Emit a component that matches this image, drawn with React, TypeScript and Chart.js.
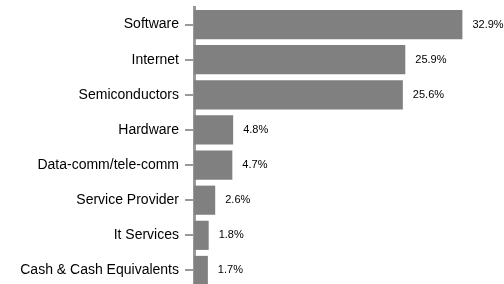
import React, { useEffect, useRef } from "react";
import { Chart, registerables } from "chart.js";

Chart.register(...registerables);

const categories = [
  "Software",
  "Internet",
  "Semiconductors",
  "Hardware",
  "Data-comm/tele-comm",
  "Service Provider",
  "It Services",
  "Cash & Cash Equivalents",
];
const weights = [32.9, 25.9, 25.6, 4.8, 4.7, 2.6, 1.8, 1.7];

const valueLabels = {
  id: "valueLabels",
  afterDatasetsDraw(chart: any) {
    const ctx = chart.ctx;
    const meta = chart.getDatasetMeta(0);
    ctx.save();
    ctx.font = "11px Arial, 'Liberation Sans', sans-serif";
    ctx.fillStyle = "#000";
    ctx.textAlign = "left";
    ctx.textBaseline = "middle";
    meta.data.forEach((bar: any, i: number) => {
      ctx.fillText(weights[i].toFixed(1) + "%", bar.x + 10, bar.y);
    });
    ctx.restore();
  },
};

export default function App() {
  const ref = useRef<HTMLCanvasElement>(null);
  useEffect(() => {
    if (!ref.current) return;
    const chart = new Chart(ref.current, {
      type: "bar",
      data: {
        labels: categories,
        datasets: [
          {
            data: weights,
            backgroundColor: "#808080",
            borderWidth: 0,
            barPercentage: 0.83,
            categoryPercentage: 1,
          },
        ],
      },
      options: {
        indexAxis: "y",
        animation: false,
        responsive: false,
        maintainAspectRatio: false,
        layout: { padding: { top: 7, right: 0, bottom: 0, left: 0 } },
        plugins: { legend: { display: false }, tooltip: { enabled: false } },
        scales: {
          x: { display: false, min: 0, max: 38 },
          y: {
            border: { display: true, color: "#999", width: 3 },
            grid: {
              display: true,
              offset: false,
              drawOnChartArea: false,
              drawTicks: true,
              tickLength: 9,
              color: "#999",
              lineWidth: 2,
            },
            ticks: {
              color: "#000",
              padding: 6,
              font: { family: "Arial, 'Liberation Sans', sans-serif", size: 14 },
            },
            afterFit(scale: any) {
              scale.width = 194;
              scale.paddingTop = 0;
              scale.paddingBottom = 0;
            },
          },
        },
      },
      plugins: [valueLabels],
    });
    return () => chart.destroy();
  }, []);
  return (
    <div style={{ position: "fixed", left: 0, top: 0, width: 504, height: 288 }}>
      <canvas ref={ref} width={504} height={288} style={{ display: "block" }} />
    </div>
  );
}
